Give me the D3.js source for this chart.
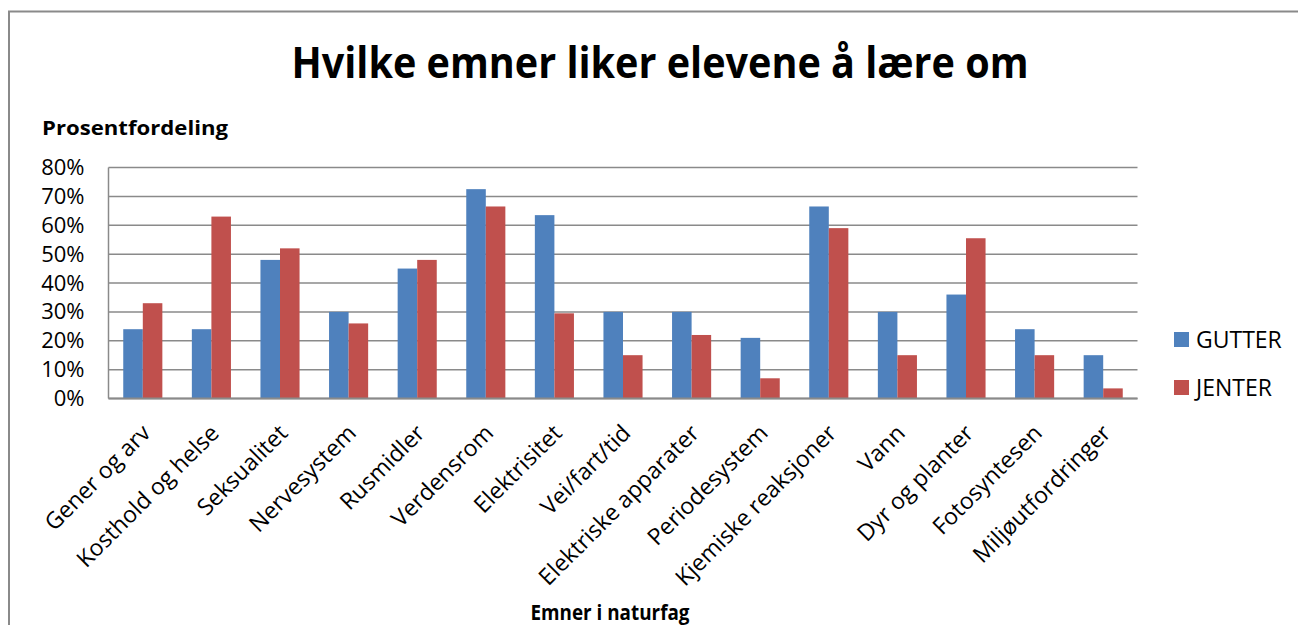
<!DOCTYPE html>
<html><head><meta charset="utf-8">
<script src="https://cdn.jsdelivr.net/npm/d3@7"></script>
<style>
html,body{margin:0;padding:0;background:#fff;}
text{font-family:"Open Sans",sans-serif;fill:#000;}
</style></head>
<body>
<svg id="chart" width="1298" height="625"></svg>
<script>
const categories = ["Gener og arv","Kosthold og helse","Seksualitet","Nervesystem","Rusmidler","Verdensrom","Elektrisitet","Vei/fart/tid","Elektriske apparater","Periodesystem","Kjemiske reaksjoner","Vann","Dyr og planter","Fotosyntesen","Miljøutfordringer"];
const gutter = [24,24,48,30,45,72.5,63.5,30,30,21,66.5,30,36,24,15];
const jenter = [33,63,52,26,48,66.5,29.5,15,22,7,59,15,55.5,15,3.5];
const seriesNames = ["GUTTER","JENTER"];
const seriesColors = ["#4F81BD","#C0504D"];
const yTicks = [0,10,20,30,40,50,60,70,80];

const svg = d3.select("#chart");
const pLeft = 108.5, pRight = 1137.5, pTop = 167.5, pBottom = 398.5;

// frame
svg.append("path").attr("d","M9,625 V11.5 H1298").attr("fill","none").attr("stroke","#8a8a8a").attr("stroke-width",2);

const x = d3.scaleBand().domain(categories).range([pLeft,pRight]).paddingInner(0.43).paddingOuter(0.215);
const x1 = d3.scaleBand().domain(seriesNames).range([0,x.bandwidth()]);
const y = d3.scaleLinear().domain([0,80]).range([pBottom,pTop]);

// gridlines
svg.append("g").selectAll("line").data(yTicks).join("line")
  .attr("x1",pLeft).attr("x2",pRight).attr("y1",d=>y(d)).attr("y2",d=>y(d))
  .attr("stroke","#8a8a8a").attr("stroke-width",1.5);
svg.append("line").attr("x1",pLeft).attr("x2",pLeft).attr("y1",pTop).attr("y2",pBottom).attr("stroke","#8a8a8a").attr("stroke-width",1.5);

// bars
const data = categories.map((c,i)=>({c, vals:[gutter[i],jenter[i]]}));
const g = svg.append("g").selectAll("g").data(data).join("g").attr("transform",d=>`translate(${x(d.c)},0)`);
g.selectAll("rect").data(d=>d.vals.map((v,j)=>({v,s:seriesNames[j],col:seriesColors[j]}))).join("rect")
  .attr("x",d=>x1(d.s)).attr("width",x1.bandwidth())
  .attr("y",d=>y(d.v)).attr("height",d=>pBottom-y(d.v))
  .attr("fill",d=>d.col);

// axis baseline
svg.append("line").attr("x1",pLeft).attr("x2",pRight).attr("y1",pBottom).attr("y2",pBottom).attr("stroke","#8a8a8a").attr("stroke-width",2);

// y axis labels
const yAxis = d3.axisLeft(y).tickValues(yTicks).tickFormat(d=>d+"%").tickSize(0).tickPadding(24);
const ya = svg.append("g").attr("transform",`translate(${pLeft},0)`).call(yAxis);
ya.select(".domain").remove();
ya.selectAll("text").attr("font-size",22).attr("font-family","Open Sans").attr("fill","#000");

// x axis labels
const xAxis = d3.axisBottom(x).tickSize(0).tickPadding(0);
const xa = svg.append("g").attr("transform",`translate(0,${pBottom})`).call(xAxis);
xa.select(".domain").remove();
xa.selectAll("text").attr("font-size",23).attr("font-family","Open Sans").attr("fill","#000")
  .attr("text-anchor","end").attr("dy",0).attr("y",0)
  .attr("transform","translate(9,36) rotate(-45)");

// title
svg.append("text").attr("x",660).attr("y",78).attr("text-anchor","middle")
  .attr("font-size",43).attr("font-weight","bold").attr("textLength",737).attr("lengthAdjust","spacingAndGlyphs")
  .text("Hvilke emner liker elevene å lære om");
svg.append("text").attr("x",42).attr("y",135).attr("font-size",20).attr("font-weight","bold")
  .attr("textLength",186).attr("lengthAdjust","spacingAndGlyphs").text("Prosentfordeling");
svg.append("text").attr("x",610).attr("y",620).attr("text-anchor","middle").attr("font-size",21).attr("font-weight","bold")
  .attr("textLength",159).attr("lengthAdjust","spacingAndGlyphs").text("Emner i naturfag");

// legend
const lg = svg.append("g").selectAll("g").data(seriesNames).join("g")
  .attr("transform",(d,i)=>`translate(1174,${332+i*48})`);
lg.append("rect").attr("width",15).attr("height",15).attr("fill",(d,i)=>seriesColors[i]);
lg.append("text").attr("x",22).attr("y",7.5).attr("dy","0.35em").attr("font-size",23).text(d=>d);
</script>
</body></html>
